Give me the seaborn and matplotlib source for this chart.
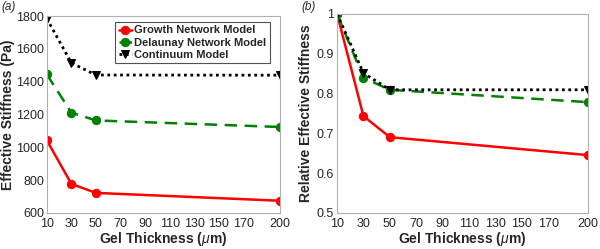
import matplotlib
matplotlib.use("Agg")
import matplotlib.pyplot as plt
import seaborn as sns
import pandas as pd

sns.set_style("white")
plt.rcParams['font.family'] = ['Liberation Sans', 'DejaVu Sans']
plt.rcParams['mathtext.fontset'] = 'custom'
plt.rcParams['mathtext.it'] = 'Liberation Sans:italic'

thickness = [10, 30, 50, 200]
growth_abs = [1043, 777, 722, 674]
delaunay_abs = [1445, 1212, 1164, 1124]
continuum_abs = [1785, 1515, 1441, 1440]

growth_rel = [1.0, 0.743, 0.690, 0.645]
delaunay_rel = [1.0, 0.839, 0.809, 0.778]
continuum_rel = [1.0, 0.851, 0.809, 0.809]

series_names = ["Growth Network Model", "Delaunay Network Model", "Continuum Model"]
xticks = [10, 30, 50, 70, 90, 110, 130, 150, 170, 200]

styles = {
    "Growth Network Model": dict(color="#ff0000", linestyle="-", marker="o", lw=1.8, ms=6),
    "Delaunay Network Model": dict(color="#008000", linestyle=(0, (5, 3)), marker="o", lw=1.8, ms=6),
    "Continuum Model": dict(color="black", linestyle=(0, (1, 1.3)), marker="v", lw=2.0, ms=6),
}

fig = plt.figure(figsize=(6.0, 2.49), dpi=100)
ax1 = fig.add_axes([0.078, 0.145, 0.389, 0.79])
ax2 = fig.add_axes([0.5617, 0.145, 0.4183, 0.80])

def draw(ax, data):
    for name, vals in zip(series_names, data):
        st = styles[name]
        sns.lineplot(x=thickness, y=vals, ax=ax, color=st["color"], linestyle=st["linestyle"],
                     marker=st["marker"], markersize=st["ms"], linewidth=st["lw"],
                     markeredgecolor=st["color"], label=name, legend=False)
    ax.set_xlim(10, 200)
    ax.set_xticks(xticks)
    ax.tick_params(axis='both', direction='in', length=2.5, colors='#262626', labelsize=9,
                   top=False, right=False, pad=2)
    ax.tick_params(axis='x', pad=4)
    for sp in ax.spines.values():
        sp.set_color('#b0b0b0')
        sp.set_linewidth(0.8)
    ax.set_xlabel(r"Gel Thickness ($\mu$m)", fontsize=10, fontweight='bold', color='#262626', labelpad=0)

draw(ax1, [growth_abs, delaunay_abs, continuum_abs])
ax1.set_ylim(600, 1800)
ax1.set_yticks([600, 800, 1000, 1200, 1400, 1600, 1800])
ax1.set_ylabel("Effective Stiffness (Pa)", fontsize=10, fontweight='bold', color='#262626')
ax1.yaxis.set_label_coords(-0.135, 0.5)
leg = ax1.legend(loc='upper right', bbox_to_anchor=(0.955, 0.97), prop={'weight': 'bold', 'size': 8},
                 frameon=True, fancybox=False, edgecolor='#262626', handlelength=1.2,
                 handletextpad=0.2, borderpad=0.3, labelspacing=0.2, borderaxespad=0)
leg.get_frame().set_linewidth(0.8)

draw(ax2, [growth_rel, delaunay_rel, continuum_rel])
ax2.set_ylim(0.5, 1.0)
ax2.set_yticks([0.5, 0.6, 0.7, 0.8, 0.9, 1.0])
ax2.set_yticklabels(["0.5", "0.6", "0.7", "0.8", "0.9", "1"])
ax2.set_ylabel("Relative Effective Stiffness", fontsize=10, fontweight='bold', color='#262626')
ax2.yaxis.set_label_coords(-0.096, 0.5)

fig.text(0.003, 0.995, "(a)", style='italic', fontsize=8.5, va='top', ha='left', color='#262626')
fig.text(0.503, 0.995, "(b)", style='italic', fontsize=8.5, va='top', ha='left', color='#262626')

fig.savefig("out.png", dpi=100)
